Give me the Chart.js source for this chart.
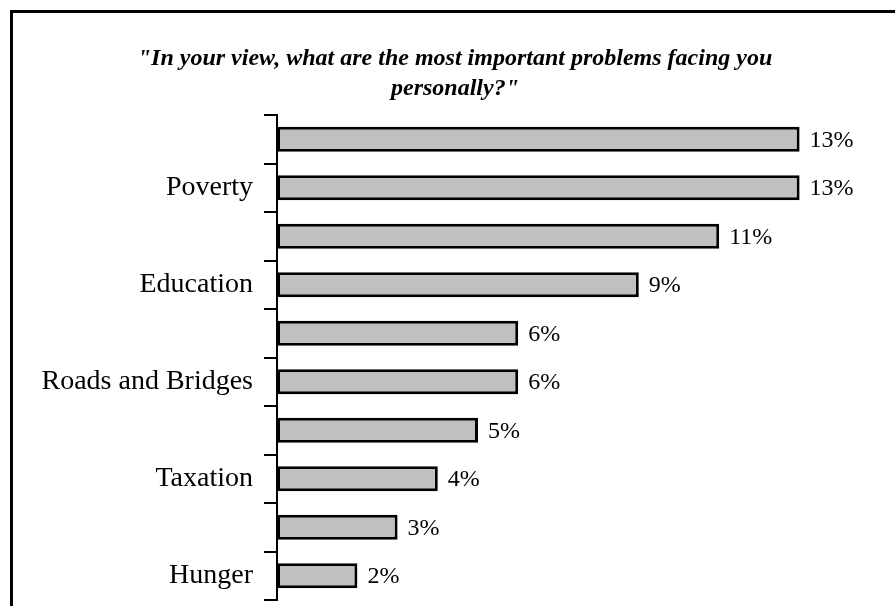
<!DOCTYPE html>
<html>
<head>
<meta charset="utf-8">
<script src="https://cdn.jsdelivr.net/npm/chart.js@4.4.0/dist/chart.umd.min.js"></script>
<style>
    html, body { margin: 0; padding: 0; background: #fff; }
    #wrap { width: 895px; height: 606px; position: relative; }
</style>
</head>
<body>
<div id="wrap"><canvas id="problems-chart"></canvas></div>
<script>
// Category labels (only every other one is printed in the original)
const categories = ['', 'Poverty', '', 'Education', '', 'Roads and Bridges', '', 'Taxation', '', 'Hunger'];
// Share of respondents, percent
const shares = [13, 13, 11, 9, 6, 6, 5, 4, 3, 2];
const titleLines = ['"In your view, what are the most important problems facing you', 'personally?"'];

const serif = '"Liberation Serif", "Times New Roman", serif';

// Outer frame around the whole chart
const framePlugin = {
    id: 'frame',
    afterDraw(chart) {
        const ctx = chart.ctx;
        ctx.save();
        ctx.strokeStyle = '#000';
        ctx.lineWidth = 3;
        ctx.strokeRect(11.5, 11.5, 2000, 2000);
        ctx.restore();
    }
};

// Percent labels at the end of each bar
const valueLabels = {
    id: 'valueLabels',
    afterDatasetsDraw(chart) {
        const ctx = chart.ctx;
        const meta = chart.getDatasetMeta(0);
        ctx.save();
        ctx.fillStyle = '#000';
        ctx.font = '24px ' + serif;
        ctx.textAlign = 'left';
        ctx.textBaseline = 'middle';
        meta.data.forEach((bar, i) => {
            ctx.fillText(shares[i] + '%', bar.x + 10, bar.y + 1);
        });
        ctx.restore();
    }
};

const ctx = document.getElementById('problems-chart').getContext('2d');

new Chart(ctx, {
    type: 'bar',
    data: {
        labels: categories,
        datasets: [{
            data: shares,
            backgroundColor: '#c0c0c0',
            borderColor: '#000',
            borderWidth: 3,
            borderSkipped: false,
            barPercentage: 0.52,
            categoryPercentage: 1
        }]
    },
    options: {
        indexAxis: 'y',
        responsive: true,
        maintainAspectRatio: false,
        animation: false,
        layout: {
            padding: { left: 30, right: 15, top: 12, bottom: 6 }
        },
        plugins: {
            legend: { display: false },
            tooltip: { enabled: false },
            title: {
                display: true,
                text: titleLines,
                color: '#000',
                font: { family: serif, size: 24, weight: 'bold', style: 'italic', lineHeight: 1.25 },
                padding: { top: 32, bottom: 11 }
            }
        },
        scales: {
            x: {
                display: false,
                min: 0,
                max: 15
            },
            y: {
                afterFit: function(scale) {
                    scale.width = 247;
                    scale.paddingTop = 0;
                    scale.paddingBottom = 0;
                },
                grid: {
                    drawOnChartArea: false,
                    color: '#000',
                    lineWidth: 2,
                    tickLength: 13
                },
                border: { color: '#000', width: 2 },
                ticks: {
                    color: '#000',
                    padding: 11,
                    autoSkip: false,
                    font: { family: serif, size: 28 }
                }
            }
        }
    },
    plugins: [framePlugin, valueLabels]
});
</script>
</body>
</html>
